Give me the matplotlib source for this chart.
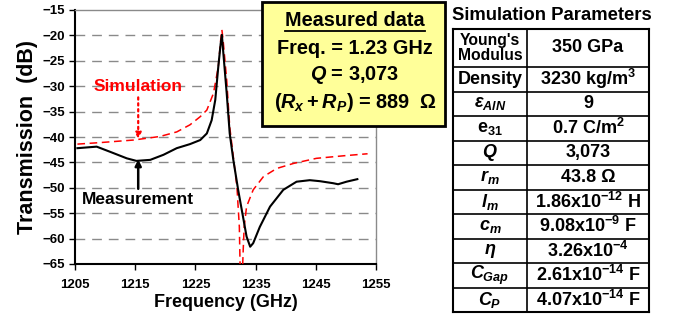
import matplotlib
matplotlib.use("Agg")
import matplotlib.pyplot as plt
from matplotlib.patches import Rectangle
from matplotlib.lines import Line2D

plt.rcParams['font.family'] = ['Liberation Sans', 'DejaVu Sans']
plt.rcParams['font.weight'] = 'bold'
plt.rcParams['mathtext.fontset'] = 'custom'
plt.rcParams['mathtext.rm'] = 'Liberation Sans:bold'
plt.rcParams['mathtext.bf'] = 'Liberation Sans:bold'
plt.rcParams['mathtext.it'] = 'Liberation Sans:bold:italic'

# ---- data ----
meas_f = [1205.4, 1208.6, 1210.8, 1213.6, 1215.2, 1217.5, 1219.7, 1221.9, 1224.1, 1225.8,
          1226.9, 1227.7, 1228.3, 1228.8, 1229.2, 1229.4, 1229.6, 1230.2, 1230.7, 1231.3,
          1232.1, 1233.0, 1233.5, 1234.1, 1234.6, 1235.7, 1237.4, 1239.6, 1241.8, 1244.0,
          1245.7, 1247.9, 1248.7, 1250.1, 1251.9]
meas_db = [-42.2, -41.9, -42.9, -44.2, -44.7, -44.5, -43.5, -42.2, -41.4, -40.6,
           -39.3, -36.7, -32.7, -26.2, -21.6, -19.9, -22.9, -31.4, -39.3, -44.5,
           -50.4, -56.3, -59.6, -61.6, -60.9, -57.7, -53.7, -50.4, -48.8, -48.5,
           -48.7, -49.1, -49.3, -48.8, -48.3]

sim_f = [1205.4, 1209.2, 1214.7, 1219.1, 1221.9, 1224.1, 1225.8, 1226.9, 1228.0, 1228.8,
         1229.2, 1229.4, 1229.6, 1230.2, 1230.7, 1231.3, 1231.9, 1232.3, 1232.45, 1232.8,
         1232.95, 1233.1, 1233.5, 1234.6, 1236.3, 1238.5, 1241.3, 1245.1, 1249.6, 1253.6]
sim_db = [-41.4, -41.1, -40.6, -39.9, -39.0, -37.6, -36.0, -34.7, -31.4, -26.2,
          -20.9, -18.9, -20.9, -28.8, -38.0, -43.9, -49.8, -57.7, -67.0, -67.0,
          -62.0, -57.7, -53.7, -50.4, -47.8, -46.2, -45.2, -44.2, -43.7, -43.3]

x_ticks = [1205, 1215, 1225, 1235, 1245, 1255]
y_ticks = [-65, -60, -55, -50, -45, -40, -35, -30, -25, -20, -15]

box_lines = ["Measured data", "Freq. = 1.23 GHz", "$Q$ = 3,073", "$(R_x + R_P)$ = 889  Ω"]

param_names = ["Young's\nModulus", "Density", r"$\varepsilon_{AlN}$", r"e$_{31}$", "$Q$",
               "$r_m$", "$l_m$", "$c_m$", r"$\eta$", "$C_{Gap}$", "$C_P$"]
param_values = ["350 GPa", "3230 kg/m$^3$", "9", "0.7 C/m$^2$", "3,073", "43.8 Ω",
                "1.86x10$^{-12}$ H", "9.08x10$^{-9}$ F", "3.26x10$^{-4}$",
                "2.61x10$^{-14}$ F", "4.07x10$^{-14}$ F"]

W, H = 673, 320
fig = plt.figure(figsize=(W / 100, H / 100), dpi=100)

def fx(px):
    return px / W

def fy(py):
    return 1 - py / H

ax = fig.add_axes([fx(75), fy(264), fx(376) - fx(75), fy(10) - fy(264)])
ax.set_xlim(1205, 1255)
ax.set_ylim(-65, -15)
ax.set_xticks(x_ticks)
ax.set_yticks(y_ticks)
ax.tick_params(axis='both', direction='out', length=4, width=1, labelsize=9.5, pad=3)
for lab in ax.get_xticklabels() + ax.get_yticklabels():
    lab.set_fontweight('bold')
ax.xaxis.set_tick_params(pad=7)
for gy in y_ticks[1:-1]:
    ax.axhline(gy, color='#8a8a8a', lw=1.0, dashes=(7, 5), zorder=1)
ax.spines['left'].set_linewidth(1.5)
ax.spines['bottom'].set_linewidth(1.5)
ax.spines['top'].set_color('#8a8a8a')
ax.spines['right'].set_color('#8a8a8a')
ax.spines['top'].set_linewidth(1.0)
ax.spines['right'].set_linewidth(1.0)

ax.plot(sim_f, sim_db, color='red', lw=1.1, dashes=(5, 3), zorder=3)
ax.plot(meas_f, meas_db, color='black', lw=1.5, zorder=4)

ax.set_xlabel("Frequency (GHz)", fontsize=13, fontweight='bold', labelpad=2)
ax.set_ylabel("Transmission  (dB)", fontsize=15.5, fontweight='bold', labelpad=3)

ax.text(1215.5, -30.0, "Simulation", color='red', fontsize=12.5, fontweight='bold',
        ha='center', va='center')
ax.annotate('', xy=(1215.5, -40.4), xytext=(1215.5, -32.2),
            arrowprops=dict(arrowstyle='-|>', color='red', lw=1.6, linestyle=':',
                            mutation_scale=9, shrinkA=0, shrinkB=0))
ax.text(1215.5, -52.4, "Measurement", color='black', fontsize=12.5, fontweight='bold',
        ha='center', va='center')
ax.annotate('', xy=(1215.5, -44.4), xytext=(1215.5, -50.2),
            arrowprops=dict(arrowstyle='-|>', color='black', lw=1.8,
                            mutation_scale=9, shrinkA=0, shrinkB=0))

# ---- yellow box ----
box = Rectangle((fx(262), fy(126)), fx(445) - fx(262), fy(2) - fy(126),
                transform=fig.transFigure, facecolor='#FFFF99', edgecolor='black',
                lw=2.0, zorder=10)
fig.patches.append(box)
bx = fx(355)
box_y = [20, 48, 75, 102]
box_texts = []
for s, py in zip(box_lines, box_y):
    t = fig.text(bx, fy(py), s, fontsize=14.3, fontweight='bold', ha='center',
                 va='center', zorder=11)
    box_texts.append(t)

# ---- table ----
fig.text(fx(552), fy(15), "Simulation Parameters", fontsize=13.3, fontweight='bold',
         ha='center', va='center')
tl, tr, tdiv = 453, 649, 527
rows = [29, 67, 91.5, 116, 140.5, 165, 189.5, 214, 238.5, 263, 287.5, 312]
for i, ry in enumerate(rows):
    lw = 1.5 if i in (0, len(rows) - 1) else 1.2
    fig.add_artist(Line2D([fx(tl), fx(tr)], [fy(ry), fy(ry)], color='black', lw=lw))
for cx in (tl, tdiv, tr):
    lw = 1.5 if cx != tdiv else 1.2
    fig.add_artist(Line2D([fx(cx), fx(cx)], [fy(rows[0]), fy(rows[-1])], color='black', lw=lw))
for i, (nm, val) in enumerate(zip(param_names, param_values)):
    cy = (rows[i] + rows[i + 1]) / 2
    fsn = 11.3 if i == 0 else 13
    fig.text(fx((tl + tdiv) / 2), fy(cy), nm, fontsize=fsn, fontweight='bold',
             ha='center', va='center', linespacing=0.95)
    fig.text(fx((tdiv + tr) / 2), fy(cy), val, fontsize=13, fontweight='bold',
             ha='center', va='center')

# underline for "Measured data"
fig.canvas.draw()
r = fig.canvas.get_renderer()
bb = box_texts[0].get_window_extent(r)
uy = bb.y0 - 1
fig.add_artist(Line2D([bb.x0 / W, bb.x1 / W], [uy / H, uy / H], color='black', lw=1.3,
                      zorder=12))

fig.savefig("out.png", dpi=100)
